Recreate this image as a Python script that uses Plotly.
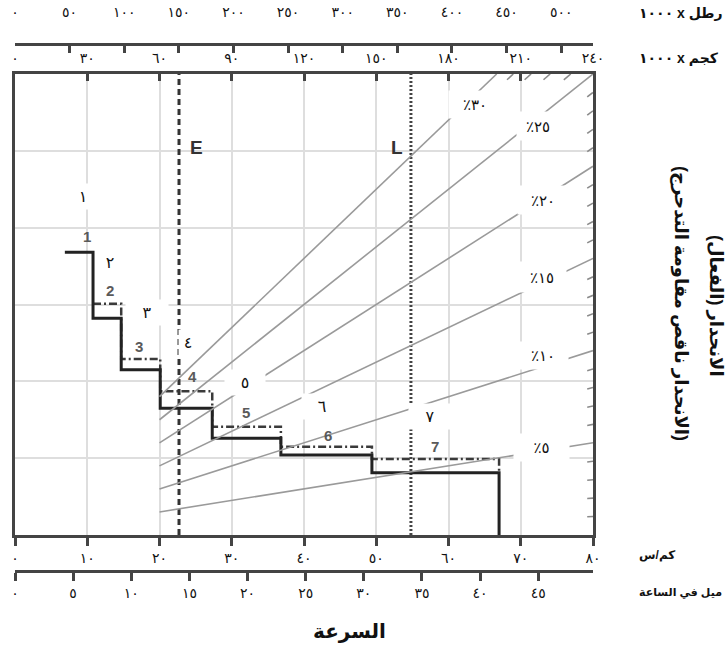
import plotly.graph_objects as go

# ---------------------------------------------------------------- helpers
AR_DIGITS = str.maketrans("0123456789", "٠١٢٣٤٥٦٧٨٩")


def ar(n):
    """Arabic-Indic digits for a number."""
    return str(n).translate(AR_DIGITS)


def rtl(s):
    """Wrap a string in a right-to-left embedding."""
    return "\u202b" + s + "\u202c"


# ---------------------------------------------------------------- data
speed_kmh_ticks = list(range(0, 81, 10))
speed_mph_ticks = list(range(0, 46, 5))
weight_t_ticks = list(range(0, 241, 30))      # x 1000 kg
weight_klb_ticks = list(range(0, 501, 50))    # x 1000 lb

gear_names = ["1", "2", "3", "4", "5", "6", "7"]
gear_names_ar = [ar(g) for g in range(1, 8)]
shift_speeds = [6.9, 10.8, 14.7, 20.1, 27.3, 36.8, 49.4, 67.0]   # km/h
rimpull_solid = [36.8, 28.2, 21.5, 16.5, 12.6, 10.4, 8.1]        # x 1000 kg, gears 1-7
rimpull_dashdot = [30.1, 22.9, 18.7, 14.1, 11.5, 9.9]            # x 1000 kg, gears 2-7

grade_major = [5, 10, 15, 20, 25, 30]                 # %
grade_minor = [g for g in range(1, 30) if g % 5]      # %

speed_E = 22.7   # km/h
speed_L = 54.8   # km/h

KMH_MAX = 80
WEIGHT_MAX = 240      # x 1000 kg
RIMPULL_MAX = 60      # x 1000 kg
GRADE_START = 60      # grade lines begin at this weight
KM_PER_MILE = 1.609344
LB_PER_KG = 2.20462

# ---------------------------------------------------------------- geometry
W, H = 727, 652
M = dict(l=15, r=134, t=30, b=70, autoexpand=False)
PW = W - M["l"] - M["r"]
PH = H - M["t"] - M["b"]
FRAME_TOP, FRAME_BOTTOM = 74, 535


def px_x(px):
    return (px - M["l"]) / PW


def px_y(py):
    return (H - M["b"] - py) / PH


FONT = "Arial, 'DejaVu Sans', sans-serif"
FRAME = "#444444"
GRID = "#dedede"

fig = go.Figure()

# grade (resistance) lines drawn against gross weight
gx, gy = [], []
for g in grade_major:
    w_end = min(WEIGHT_MAX, RIMPULL_MAX * 100 / g)
    gx += [GRADE_START, w_end, None]
    gy += [GRADE_START * g / 100, w_end * g / 100, None]
fig.add_trace(go.Scatter(x=gx, y=gy, xaxis="x2", yaxis="y", mode="lines",
                         line=dict(color="#9a9a9a", width=1.6),
                         hoverinfo="skip", showlegend=False))

# short 1 % marks where each intermediate grade meets the frame
mx, my = [], []
for g in grade_minor:
    if WEIGHT_MAX * g / 100 <= RIMPULL_MAX:
        w0, w1 = WEIGHT_MAX - 2.4, WEIGHT_MAX
    else:
        w1 = RIMPULL_MAX * 100 / g
        w0 = (RIMPULL_MAX - 0.75) * 100 / g
    mx += [w0, w1, None]
    my += [w0 * g / 100, w1 * g / 100, None]
fig.add_trace(go.Scatter(x=mx, y=my, xaxis="x2", yaxis="y", mode="lines",
                         line=dict(color="#8a8a8a", width=1.6),
                         hoverinfo="skip", showlegend=False))

# empty traces so the pound and mph scales are drawn
for ax in ("x3", "x4"):
    fig.add_trace(go.Scatter(x=[None], y=[None], xaxis=ax, yaxis="y", mode="lines",
                             hoverinfo="skip", showlegend=False))

# E and L reference speeds
fig.add_trace(go.Scatter(x=[speed_E, speed_E], y=[0, RIMPULL_MAX], mode="lines",
                         line=dict(color="#333333", width=3, dash="6px,4px"),
                         hoverinfo="skip", showlegend=False))
fig.add_trace(go.Scatter(x=[speed_L, speed_L], y=[0, RIMPULL_MAX], mode="lines",
                         line=dict(color="#444444", width=3, dash="2px,2px"),
                         hoverinfo="skip", showlegend=False))

# dash-dot step curve (gears 2-7)
fig.add_trace(go.Scatter(x=shift_speeds[1:], y=rimpull_dashdot + [rimpull_solid[-1]],
                         mode="lines", line_shape="hv",
                         line=dict(color="#3a3a3a", width=2.5, dash="8px,3px,2px,3px"),
                         hoverinfo="skip", showlegend=False))

# solid step curve (gears 1-7)
fig.add_trace(go.Scatter(x=shift_speeds, y=rimpull_solid + [0],
                         mode="lines", line_shape="hv",
                         line=dict(color="#222222", width=3),
                         hoverinfo="skip", showlegend=False))

# ---------------------------------------------------------------- annotations
ann = []


def paper_text(px, py, text, size, **kw):
    d = dict(x=px_x(px), y=px_y(py), xref="paper", yref="paper", text=text,
             showarrow=False, xanchor="center", yanchor="middle",
             font=dict(family=FONT, size=size, color="#111111"))
    d.update(kw)
    return d


# gear numbers
latin_xy = [(10.0, 38.9), (13.15, 31.8), (17.2, 24.5), (24.5, 20.6),
            (32.0, 15.9), (43.3, 13.0), (58.1, 11.5)]
arabic_xy = [(9.4, 44.0), (13.15, 35.5), (18.3, 28.9), (23.9, 25.1),
             (31.8, 19.8), (42.5, 16.7), (57.4, 15.4)]
arabic_box_w = [14, 22, 40, 16, 38, 38, 40]
for name, (x, y) in zip(gear_names, latin_xy):
    ann.append(dict(x=x, y=y, xref="x", yref="y", text=f"<b>{name}</b>",
                    showarrow=False, xanchor="center", yanchor="middle",
                    font=dict(family=FONT, size=15, color="#5a5a5a")))
for name, (x, y), bw in zip(gear_names_ar, arabic_xy, arabic_box_w):
    ann.append(dict(x=x, y=y, xref="x", yref="y", text=name, showarrow=False,
                    xanchor="center", yanchor="middle",
                    width=bw, height=23, bgcolor="white",
                    font=dict(family=FONT, size=16, color="#111111")))

# grade labels
grade_label_px = {30: (475, 104, 50, 25), 25: (538, 126, 40, 26),
                  20: (543, 200, 48, 26), 15: (542, 277, 46, 28),
                  10: (543, 355, 48, 25), 5: (541, 447, 53, 25)}
for g in grade_major:
    cx, cy, bw, bh = grade_label_px[g]
    ann.append(paper_text(cx, cy, rtl(ar(g) + "٪"), 15, width=bw, height=bh,
                          bgcolor="white"))

# E / L markers
for xs, lab, shift in ((speed_E, "E", 17), (speed_L, "L", -14)):
    ann.append(dict(x=xs, y=px_y(148), xref="x", yref="paper", text=f"<b>{lab}</b>",
                    xshift=shift, showarrow=False, xanchor="center", yanchor="middle",
                    font=dict(family=FONT, size=19, color="#333333")))

# unit labels for the four scales
units = [(13, rtl("رطل x ١٠٠٠"), 14), (58, rtl("كجم x ١٠٠٠"), 14),
         (555, "كم/س", 12), (592, "ميل في الساعة", 11)]
for py, txt, fs in units:
    ann.append(paper_text(637, py, f"<b>{txt}</b>", fs, xanchor="left"))

# right-hand title (effective grade)
ann.append(paper_text(716, 306, "<b>" + rtl("الانحدار (الفعال)") + "</b>", 18,
                      textangle=90))
ann.append(paper_text(681, 304, "<b>" + rtl("(الانحدار ناقص مقاومة التدحرج)") + "</b>", 18,
                      textangle=90))

# speed title
ann.append(paper_text(349, 631, "<b>السرعة</b>", 20))

# ---------------------------------------------------------------- axes
tick_font = dict(family=FONT, size=14, color="#111111")
common = dict(showline=True, linecolor=FRAME, linewidth=3, tickcolor=FRAME,
              tickwidth=2.5, zeroline=False, tickfont=tick_font, fixedrange=True,
              automargin=False)

fig.update_layout(
    width=W, height=H, margin=M,
    paper_bgcolor="white", plot_bgcolor="white",
    showlegend=False,
    xaxis=dict(domain=[0, 1], anchor="y", range=[0, KMH_MAX],
               tickvals=speed_kmh_ticks, ticktext=[ar(v) for v in speed_kmh_ticks],
               ticks="outside", ticklen=8, showgrid=True, gridcolor=GRID, gridwidth=1.6,
               **common),
    xaxis2=dict(overlaying="x", anchor="y", side="top", range=[0, WEIGHT_MAX],
                tickvals=weight_t_ticks, ticktext=[ar(v) for v in weight_t_ticks],
                ticks="inside", ticklen=7, showgrid=False, ticklabelstandoff=2,
                **common),
    xaxis3=dict(overlaying="x", anchor="free", position=px_y(44), side="top",
                range=[0, WEIGHT_MAX * LB_PER_KG],
                tickvals=weight_klb_ticks, ticktext=[ar(v) for v in weight_klb_ticks],
                ticks="inside", ticklen=7, showgrid=False, ticklabelstandoff=20,
                **common),
    xaxis4=dict(overlaying="x", anchor="free", position=px_y(571), side="bottom",
                range=[0, KMH_MAX / KM_PER_MILE],
                tickvals=speed_mph_ticks, ticktext=[ar(v) for v in speed_mph_ticks],
                ticks="outside", ticklen=8, showgrid=False,
                **common),
    yaxis=dict(domain=[px_y(FRAME_BOTTOM), px_y(FRAME_TOP)], range=[0, RIMPULL_MAX],
               tickvals=list(range(0, RIMPULL_MAX + 1, 10)), showticklabels=False,
               ticks="", showline=True, mirror=True, linecolor=FRAME, linewidth=3,
               showgrid=True, gridcolor=GRID, gridwidth=1.6, zeroline=False,
               fixedrange=True, automargin=False),
    annotations=ann,
)

fig.write_html("out.html")
